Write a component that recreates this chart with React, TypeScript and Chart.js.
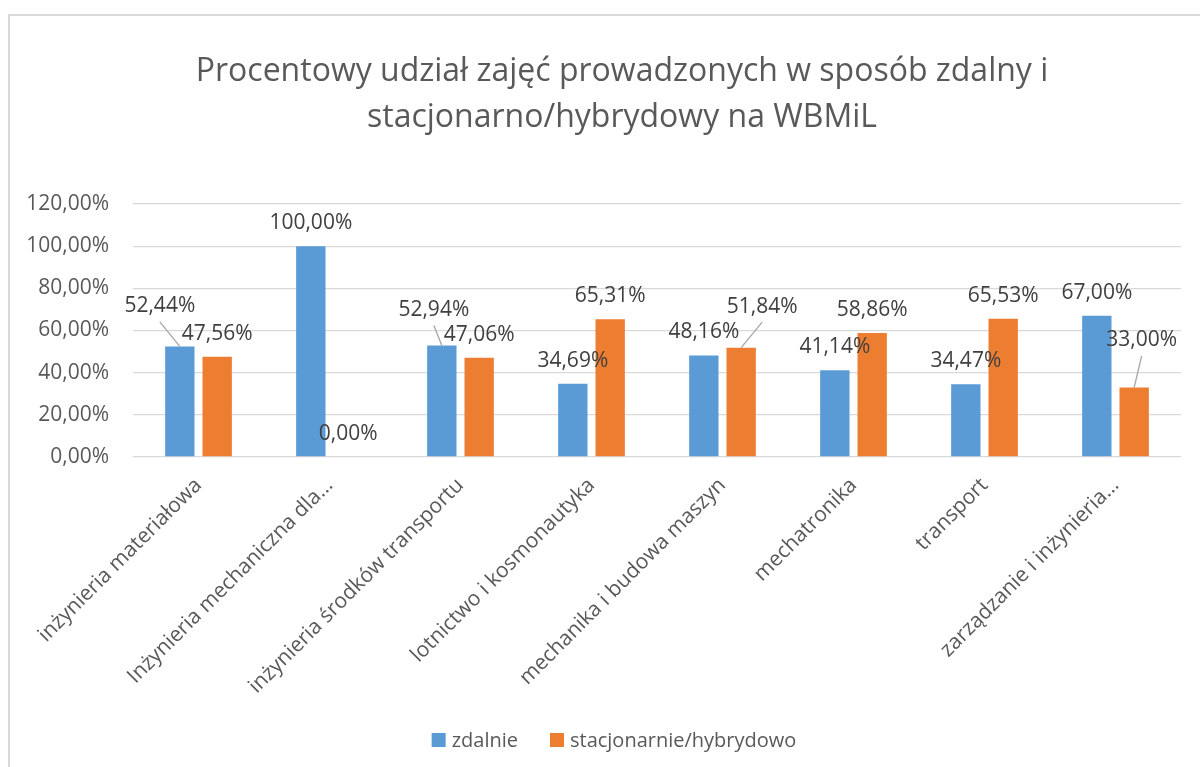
import React, { useEffect, useRef } from "react";
import { Chart, registerables } from "chart.js";

Chart.register(...registerables);

const titleLines = [
  "Procentowy udział zajęć prowadzonych w sposób zdalny i",
  "stacjonarno/hybrydowy na WBMiL",
];
const categories = [
  "inżynieria materiałowa",
  "Inżynieria mechaniczna dla…",
  "inżynieria środków transportu",
  "lotnictwo i kosmonautyka",
  "mechanika i budowa maszyn",
  "mechatronika",
  "transport",
  "zarządzanie i inżynieria…",
];
const seriesNames = ["zdalnie", "stacjonarnie/hybrydowo"];
const zdalnie = [52.44, 100.0, 52.94, 34.69, 48.16, 41.14, 34.47, 67.0];
const stacjonarnie = [47.56, 0.0, 47.06, 65.31, 51.84, 58.86, 65.53, 33.0];
const yMin = 0;
const yMax = 120;
const yStep = 20;

// pixel nudges for the few labels moved aside (with leader lines)
const labelNudges: (number[] | null)[][] = [
  [[-20, -17], null, [-8, -12.5], null, null, null, null, null],
  [null, null, null, null, [21, -18], null, null, [7.5, -24]],
];

const seriesColors = ["#5B9BD5", "#ED7D31"];
const FONT = '"Open Sans", "Liberation Sans", sans-serif';

const fmt = (v: number) => v.toFixed(2).replace(".", ",") + "%";

const titlePlugin = {
  id: "customTitle",
  afterDraw(chart: any) {
    const ctx = chart.ctx;
    ctx.save();
    ctx.font = `32px ${FONT}`;
    ctx.fillStyle = "#595959";
    ctx.textAlign = "center";
    ctx.textBaseline = "middle";
    const cx = 612;
    titleLines.forEach((line, i) => {
      ctx.fillText(line, cx, 56 + i * 46);
    });
    ctx.restore();
  },
};

const dataLabelPlugin = {
  id: "dataLabels",
  afterDatasetsDraw(chart: any) {
    const ctx = chart.ctx;
    ctx.save();
    ctx.font = `21px ${FONT}`;
    ctx.textAlign = "center";
    ctx.textBaseline = "alphabetic";
    chart.data.datasets.forEach((ds: any, di: number) => {
      const meta = chart.getDatasetMeta(di);
      meta.data.forEach((bar: any, i: number) => {
        const v = ds.data[i];
        const n = labelNudges[di][i];
        const dx = n ? n[0] : 0;
        const dy = n ? n[1] : 0;
        const cx = bar.x + dx;
        const cy = bar.y - 24.5 + dy;
        if (n) {
          ctx.strokeStyle = "#a6a6a6";
          ctx.lineWidth = 1.3;
          ctx.beginPath();
          ctx.moveTo(cx, cy + 17);
          ctx.lineTo(bar.x, bar.y);
          ctx.stroke();
        }
        ctx.fillStyle = "#404040";
        ctx.fillText(fmt(v), cx, cy + 7.5);
      });
    });
    ctx.restore();
  },
};

const legendPlugin = {
  id: "customLegend",
  afterDraw(chart: any) {
    const ctx = chart.ctx;
    ctx.save();
    ctx.font = `20px ${FONT}`;
    ctx.textBaseline = "middle";
    ctx.textAlign = "left";
    const box = 14;
    const gap = 6;
    const spacing = 32;
    const items = chart.data.datasets.map((ds: any) => ({
      text: ds.label,
      color: ds.backgroundColor,
      w: box + gap + ctx.measureText(ds.label).width,
    }));
    const total =
      items.reduce((s: number, it: any) => s + it.w, 0) + spacing * (items.length - 1);
    let x = chart.width / 2 + 9 - total / 2;
    const cy = 724;
    items.forEach((it: any) => {
      ctx.fillStyle = it.color;
      ctx.fillRect(x, cy - box / 2, box, box);
      ctx.fillStyle = "#595959";
      ctx.fillText(it.text, x + box + gap, cy + 1);
      x += it.w + spacing;
    });
    ctx.restore();
  },
};

export default function App() {
  const ref = useRef<HTMLCanvasElement | null>(null);

  useEffect(() => {
    if (!ref.current) return;
    Chart.defaults.font.family = FONT;
    const chart = new Chart(ref.current, {
      type: "bar",
      data: {
        labels: categories,
        datasets: [
          {
            label: seriesNames[0],
            data: zdalnie,
            backgroundColor: seriesColors[0],
            categoryPercentage: 0.57,
            barPercentage: 0.786,
          },
          {
            label: seriesNames[1],
            data: stacjonarnie,
            backgroundColor: seriesColors[1],
            categoryPercentage: 0.57,
            barPercentage: 0.786,
          },
        ],
      },
      options: {
        responsive: false,
        animation: false,
        layout: { padding: { left: 0, right: 19, top: 188, bottom: 60 } },
        plugins: {
          legend: { display: false },
          tooltip: { enabled: false },
          title: { display: false },
        },
        scales: {
          y: {
            min: yMin,
            max: yMax,
            ticks: {
              stepSize: yStep,
              callback: (v: any) => fmt(Number(v)),
              color: "#595959",
              font: { size: 21, family: FONT },
              padding: 24,
            },
            grid: { color: "#d9d9d9", lineWidth: 1.3, drawTicks: false },
            border: { display: false },
            afterFit: (scale: any) => {
              scale.width = 123;
            },
          },
          x: {
            grid: { display: false },
            border: { display: false },
            ticks: {
              autoSkip: false,
              maxRotation: 45,
              minRotation: 45,
              color: "#595959",
              font: { size: 21, family: FONT },
              padding: 8,
            },
            afterFit: (scale: any) => {
              scale.height = 250;
            },
          },
        },
      },
      plugins: [titlePlugin, dataLabelPlugin, legendPlugin],
    });
    return () => chart.destroy();
  }, []);

  return (
    <div
      style={{
        position: "fixed",
        left: 8,
        top: 14,
        width: 1192,
        height: 753,
        borderTop: "2px solid #d9d9d9",
        borderLeft: "2px solid #d9d9d9",
        boxSizing: "border-box",
        background: "#fff",
        overflow: "hidden",
      }}
    >
      <canvas ref={ref} width={1190} height={751} style={{ display: "block" }} />
    </div>
  );
}
